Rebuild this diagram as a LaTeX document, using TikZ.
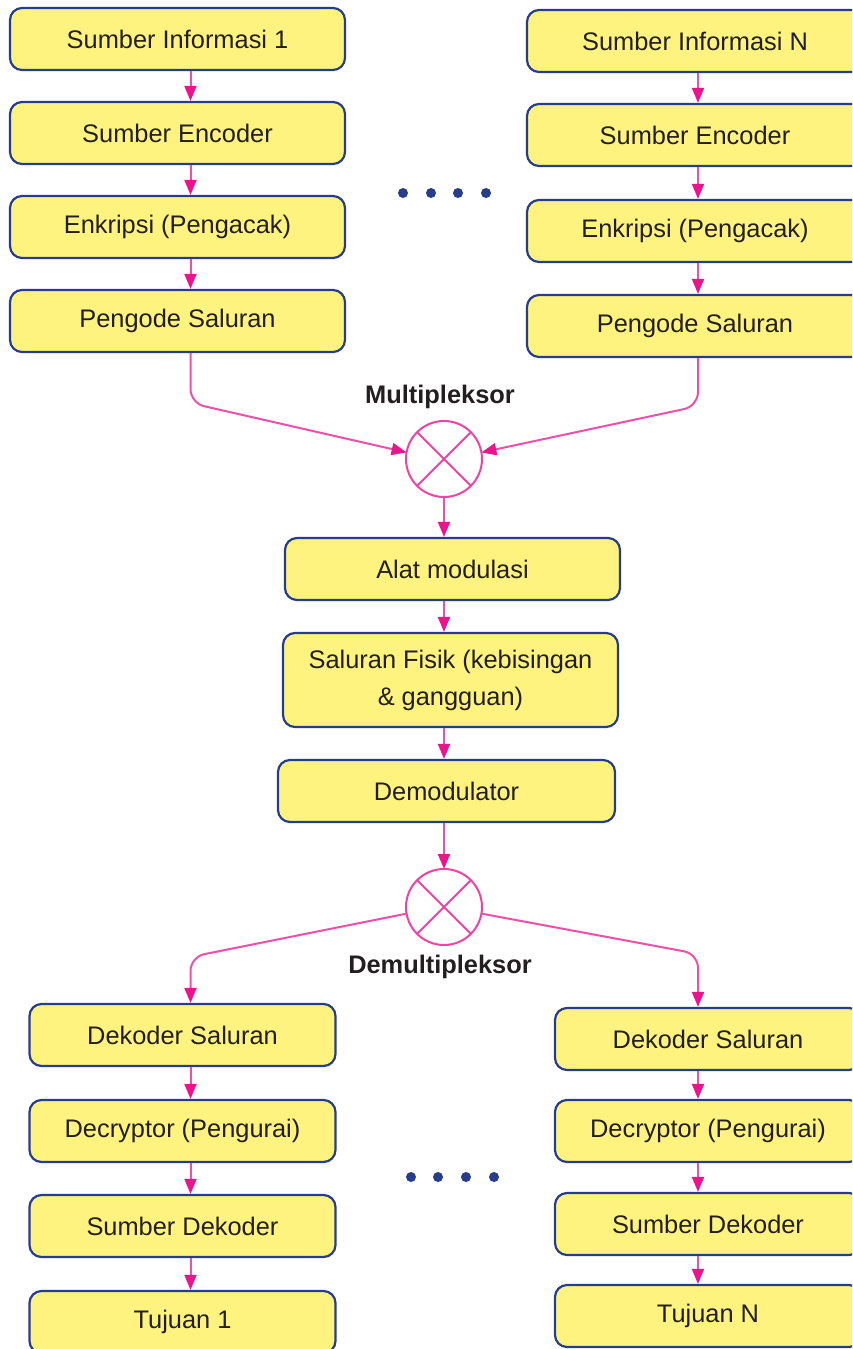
\documentclass[tikz,border=0pt]{standalone}
\usepackage{fontspec}
\setmainfont{Liberation Sans}
\usepackage{tikz}
\usetikzlibrary{positioning,arrows.meta}
\definecolor{kuning}{RGB}{255,243,128}
\definecolor{biru}{RGB}{38,60,140}
\definecolor{magen}{RGB}{234,20,140}
\definecolor{teks}{RGB}{35,31,32}

\begin{document}
\begin{tikzpicture}[x = 1pt, y = -1pt,
  blok/.style = {draw = biru, line width = 2.2pt, fill = kuning, rounded corners = 12pt, minimum height = 62pt, inner sep = 0pt, text = teks, font = \fontsize{25.4}{37}\selectfont, align = center},
  panah/.style = {draw = magen!75, line width = 2pt, -{Triangle[length = 15pt, width = 12pt, color = magen]}},
  silang/.style = {draw = magen!80, line width = 2pt, circle, minimum size = 76pt, inner sep = 0pt, outer sep = 0pt},
  judul/.style = {text = teks, font = \fontsize{25.4}{30}\selectfont\bfseries}]
\useasboundingbox (0,0) rectangle (852,1349);
\clip (0,0) rectangle (852,1349);
\node[blok, minimum width = 335pt] (sumber1) at (177.5,39) {Sumber Informasi 1};
\node[blok, minimum width = 335pt] (enc1) at (177.5,133) {Sumber Encoder};
\node[blok, minimum width = 335pt] (enk1) at (177.5,227) {Enkripsi (Pengacak)};
\node[blok, minimum width = 335pt] (kode1) at (177.5,321) {Pengode Saluran};
\node[blok, minimum width = 336pt] (sumberN) at (695,41) {Sumber Informasi N};
\node[blok, minimum width = 336pt] (encN) at (695,135) {Sumber Encoder};
\node[blok, minimum width = 336pt] (enkN) at (695,231) {Enkripsi (Pengacak)};
\node[blok, minimum width = 336pt] (kodeN) at (695,326) {Pengode Saluran};
\foreach \x in {403,431,458,486} \fill[biru] (\x,193) circle (5);
\node[judul] (lmux) at (440,397) {Multipleksor};
\node[silang] (mux) at (444,459) {};
\draw[magen!80, line width = 2pt] (mux.45) -- (mux.225) (mux.135) -- (mux.315);
\node[blok, minimum width = 335pt] (alat) at (452.5,569) {Alat modulasi};
\node[blok, minimum width = 335pt, minimum height = 94pt] (fisik) at (450.5,680) {Saluran Fisik (kebisingan\\\& gangguan)};
\node[blok, minimum width = 337pt] (demod) at (446.5,791) {Demodulator};
\node[silang] (demux) at (444,907) {};
\draw[magen!80, line width = 2pt] (demux.45) -- (demux.225) (demux.135) -- (demux.315);
\node[judul] (ldemux) at (440,967) {Demultipleksor};
\node[blok, minimum width = 306pt] (dek1) at (182.5,1035) {Dekoder Saluran};
\node[blok, minimum width = 306pt] (dcr1) at (182.5,1131) {Decryptor (Pengurai)};
\node[blok, minimum width = 306pt] (sd1) at (182.5,1226) {Sumber Dekoder};
\node[blok, minimum width = 306pt] (tuj1) at (182.5,1322) {Tujuan 1};
\node[blok, minimum width = 306pt] (dekN) at (708,1039) {Dekoder Saluran};
\node[blok, minimum width = 306pt] (dcrN) at (708,1131) {Decryptor (Pengurai)};
\node[blok, minimum width = 306pt] (sdN) at (708,1224) {Sumber Dekoder};
\node[blok, minimum width = 306pt] (tujN) at (708,1316) {Tujuan N};
\foreach \x in {411,438,466,494} \fill[biru] (\x,1177) circle (5);
\foreach \a/\b/\s in {sumber1/enc1/13, enc1/enk1/13, enk1/kode1/13, sumberN/encN/3, encN/enkN/3, enkN/kodeN/3, dek1/dcr1/8, dcr1/sd1/8, sd1/tuj1/8, dekN/dcrN/-10, dcrN/sdN/-10, sdN/tujN/-10}
  \draw[panah] ([xshift = \s pt]\a.south) -- ([xshift = \s pt]\b.north);
\draw[panah, rounded corners = 14pt] ([xshift = 13pt]kode1.south) -- ++(0,50) -- (mux.170);
\draw[panah, rounded corners = 14pt] ([xshift = 3pt]kodeN.south) -- ++(0,48) -- (mux.10);
\draw[panah] (mux.south) -- (mux.south |- alat.north);
\draw[panah] (mux.south |- alat.south) -- (mux.south |- fisik.north);
\draw[panah] (mux.south |- fisik.south) -- (mux.south |- demod.north);
\draw[panah] (demux.north |- demod.south) -- (demux.north);
\draw[panah, rounded corners = 14pt] (demux.190) -- ([xshift = 8pt, yshift = 46pt]dek1.north) -- ([xshift = 8pt]dek1.north);
\draw[panah, rounded corners = 14pt] (demux.350) -- ([xshift = -10pt, yshift = 53pt]dekN.north) -- ([xshift = -10pt]dekN.north);
\end{tikzpicture}
\end{document}
